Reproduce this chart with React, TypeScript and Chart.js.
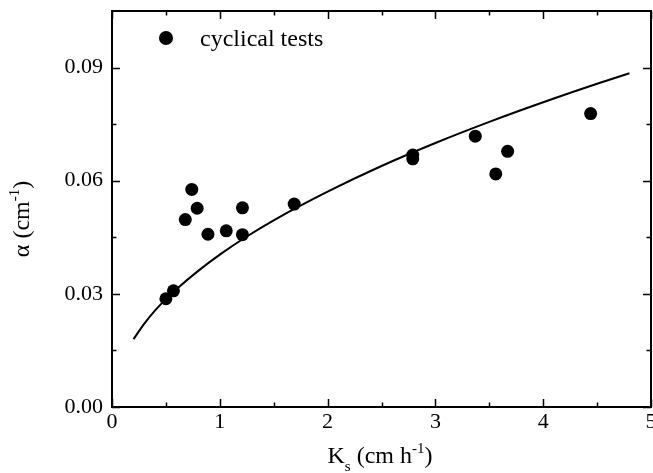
import React, { useEffect, useRef } from "react";
import { Chart, registerables } from "chart.js";

Chart.register(...registerables);

// Measured points ("cyclical tests")
const cyclicalKs = [0.5, 0.57, 0.68, 0.74, 0.79, 0.89, 1.06, 1.21, 1.21, 1.69, 2.79, 2.79, 3.37, 3.56, 3.67, 4.44];
const cyclicalAlpha = [0.0287, 0.0308, 0.0497, 0.0577, 0.0527, 0.0458, 0.0467, 0.0528, 0.0457, 0.0538, 0.0668, 0.0658, 0.0718, 0.0618, 0.0678, 0.0778];

// Fitted curve
const fitKs = [0.2, 0.3, 0.4, 0.5, 0.6, 0.8, 1.0, 1.25, 1.5, 2.0, 2.5, 3.0, 3.5, 4.0, 4.5, 4.8];
const fitAlpha = [0.018, 0.0221, 0.0256, 0.0286, 0.0313, 0.0361, 0.0404, 0.0452, 0.0495, 0.0571, 0.0639, 0.07, 0.0756, 0.0808, 0.0857, 0.0885];

// Axis ticks
const xMajorTicks = [0, 1, 2, 3, 4, 5];
const xMinorTicks = [0.5, 1.5, 2.5, 3.5, 4.5];
const yMajorTicks = [0, 0.03, 0.06, 0.09];
const yMinorTicks = [0.015, 0.045, 0.075];

const legendLabel = "cyclical tests";

const FONT = "'Liberation Serif', 'Times New Roman', serif";

type Part = { text: string; size: number; dy: number };

function drawRich(ctx: CanvasRenderingContext2D, parts: Part[], cx: number, baseline: number) {
  let total = 0;
  for (const p of parts) {
    ctx.font = `${p.size}px ${FONT}`;
    total += ctx.measureText(p.text).width;
  }
  let x = cx - total / 2;
  ctx.textAlign = "left";
  ctx.textBaseline = "alphabetic";
  for (const p of parts) {
    ctx.font = `${p.size}px ${FONT}`;
    ctx.fillText(p.text, x, baseline + p.dy);
    x += ctx.measureText(p.text).width;
  }
}

const framePlugin = {
  id: "framePlugin",
  afterDraw(chart: any) {
    const ctx: CanvasRenderingContext2D = chart.ctx;
    const { left, right, top, bottom } = chart.chartArea;
    const xs = chart.scales.x;
    const ys = chart.scales.y;
    ctx.save();
    ctx.strokeStyle = "#000";
    ctx.fillStyle = "#000";
    ctx.lineWidth = 2;
    ctx.strokeRect(left, top, right - left, bottom - top);
    ctx.lineWidth = 1.5;
    const major = 8;
    const minor = 4.5;
    ctx.beginPath();
    const xt = (v: number, len: number) => {
      const px = Math.round(xs.getPixelForValue(v)) + 0.5;
      ctx.moveTo(px, bottom);
      ctx.lineTo(px, bottom - len);
      ctx.moveTo(px, top);
      ctx.lineTo(px, top + len);
    };
    const yt = (v: number, len: number) => {
      const py = Math.round(ys.getPixelForValue(v)) + 0.5;
      ctx.moveTo(left, py);
      ctx.lineTo(left + len, py);
      ctx.moveTo(right, py);
      ctx.lineTo(right - len, py);
    };
    xMajorTicks.forEach((v) => xt(v, major));
    xMinorTicks.forEach((v) => xt(v, minor));
    yMajorTicks.forEach((v) => yt(v, major));
    yMinorTicks.forEach((v) => yt(v, minor));
    ctx.stroke();

    // x tick labels
    ctx.font = `22px ${FONT}`;
    ctx.textAlign = "center";
    ctx.textBaseline = "top";
    xMajorTicks.forEach((v) => {
      ctx.fillText(String(v), xs.getPixelForValue(v), bottom + 4);
    });

    // legend
    ctx.beginPath();
    ctx.arc(166, 38, 7, 0, Math.PI * 2);
    ctx.fill();
    ctx.font = `24px ${FONT}`;
    ctx.textAlign = "left";
    ctx.textBaseline = "alphabetic";
    ctx.fillText(legendLabel, 200, 46);

    // x title: K_s (cm h^-1)
    drawRich(
      ctx,
      [
        { text: "K", size: 24, dy: 0 },
        { text: "s", size: 15, dy: 8 },
        { text: " (cm h", size: 24, dy: 0 },
        { text: "-1", size: 15, dy: -10 },
        { text: ")", size: 24, dy: 0 },
      ],
      380,
      463
    );

    // y title: α (cm^-1)
    ctx.save();
    ctx.translate(29, 219);
    ctx.rotate(-Math.PI / 2);
    drawRich(
      ctx,
      [
        { text: "α (cm", size: 24, dy: 0 },
        { text: "-1", size: 15, dy: -10 },
        { text: ")", size: 24, dy: 0 },
      ],
      0,
      0
    );
    ctx.restore();
    ctx.restore();
  },
};

export default function App() {
  const ref = useRef<HTMLCanvasElement | null>(null);

  useEffect(() => {
    document.body.style.margin = "0";
    if (!ref.current) return;
    const chart = new Chart(ref.current, {
      type: "scatter",
      data: {
        datasets: [
          {
            label: "fit",
            data: fitKs.map((k, i) => ({ x: k, y: fitAlpha[i] })),
            showLine: true,
            borderColor: "#000",
            borderWidth: 2,
            pointRadius: 0,
            cubicInterpolationMode: "monotone",
            fill: false,
          },
          {
            label: legendLabel,
            data: cyclicalKs.map((k, i) => ({ x: k, y: cyclicalAlpha[i] })),
            showLine: false,
            pointRadius: 6.5,
            pointBackgroundColor: "#000",
            pointBorderColor: "#000",
            pointBorderWidth: 0,
          },
        ],
      },
      options: {
        animation: false,
        responsive: false,
        maintainAspectRatio: false,
        layout: { autoPadding: false, padding: { top: 11, right: 2, left: 0, bottom: 0 } },
        plugins: { legend: { display: false }, tooltip: { enabled: false } },
        scales: {
          x: {
            type: "linear",
            min: 0,
            max: 5,
            grid: { display: false, drawTicks: false },
            border: { display: false },
            ticks: { display: false },
            afterBuildTicks: (s: any) => {
              s.ticks = xMajorTicks.map((v) => ({ value: v }));
            },
            afterFit: (s: any) => {
              s.height = 66;
              s.paddingLeft = 0;
              s.paddingRight = 0;
            },
          },
          y: {
            type: "linear",
            min: 0,
            max: 0.105,
            grid: { display: false, drawTicks: false },
            border: { display: false },
            ticks: {
              padding: 9,
              color: "#000",
              font: { family: FONT, size: 22 },
              callback: (v: any) => Number(v).toFixed(2),
            },
            afterBuildTicks: (s: any) => {
              s.ticks = yMajorTicks.map((v) => ({ value: v }));
            },
            afterFit: (s: any) => {
              s.width = 112;
              s.paddingTop = 0;
              s.paddingBottom = 0;
            },
          },
        },
      } as any,
      plugins: [framePlugin],
    });
    return () => chart.destroy();
  }, []);

  return (
    <div style={{ width: 653, height: 473, position: "relative", background: "#fff" }}>
      <canvas ref={ref} width={653} height={473} style={{ display: "block" }} />
    </div>
  );
}
